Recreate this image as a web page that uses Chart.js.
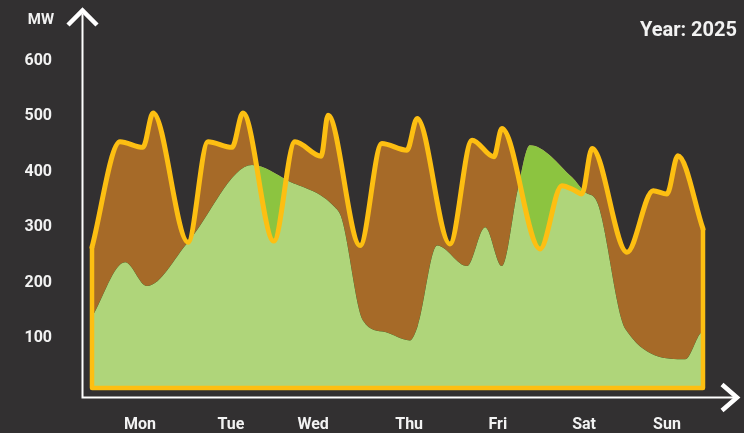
<!DOCTYPE html>
<html>
<head>
<meta charset="utf-8">
<script src="https://cdn.jsdelivr.net/npm/chart.js@4/dist/chart.umd.min.js"></script>
<style>
  html, body { margin: 0; padding: 0; background: #323031; }
  #wrap { width: 744px; height: 433px; }
</style>
</head>
<body>
<div id="wrap"><canvas id="c" width="744" height="433"></canvas></div>
<script>
// ---- data (x = hours since Monday 00:00) ----
const demandHours = [0, 7.7, 14.0, 16.8, 26.4, 31.9, 38.5, 41.5, 50.0, 55.8, 63.0, 64.9, 73.7, 79.7, 86.6, 89.4, 98.4, 104.5, 110.5, 112.7, 123.2, 129.2, 132.8, 134.7, 137.5, 147.1, 154.3, 158.1, 161.1, 168];
const demandMW    = [264, 454, 444, 506, 273, 454, 444, 506, 275, 454, 428, 502, 267, 451, 439, 496, 270, 457, 427, 478, 261, 375, 366, 360, 442, 255, 366, 360, 429, 297];
const supplyHours = [0, 9.1, 15.1, 26.4, 44.0, 53.9, 66.8, 68.7, 74.5, 80.6, 87.4, 89.6, 94.9, 103.1, 108.1, 112.7, 117.1, 120.4, 132.0, 135.6, 138.9, 146.6, 163.1, 167.2, 168];
const supplyMW    = [138, 237, 194, 273, 412, 384, 336, 315, 132, 111, 96, 123, 267, 230, 300, 230, 369, 448, 390, 363, 345, 117, 62, 108, 112];
const baseMW = 10;
const dayLabels = ['Mon', 'Tue', 'Wed', 'Thu', 'Fri', 'Sat', 'Sun'];
const dayTickHours = [13.2, 38.2, 60.8, 87.2, 111.6, 135.3, 158.1];
const yTickValues = [100, 200, 300, 400, 500, 600];
const unitLabel = 'MW';
const yearLabel = 'Year: 2025';

const BG = '#323031', YELLOW = '#fdbf12', BROWN = '#a66a28', LIGHTGREEN = '#afd57a', DARKGREEN = '#8cc440', WHITE = '#ffffff', TEXT = '#f2f2f2';
const FONT = 'Roboto, "Open Sans", sans-serif';

const demandPts = demandHours.map((h, i) => ({x: h, y: demandMW[i]}));
const supplyPts = supplyHours.map((h, i) => ({x: h, y: supplyMW[i]}));
const firstH = demandHours[0], lastH = demandHours[demandHours.length - 1];
const framePts = [
  {x: firstH, y: demandMW[0]},
  {x: firstH, y: baseMW},
  {x: lastH, y: baseMW},
  {x: lastH, y: demandMW[demandMW.length - 1]}
];

const decor = {
  id: 'decor',
  beforeDraw(chart) {
    const ctx = chart.ctx;
    ctx.save();
    ctx.fillStyle = BG;
    ctx.fillRect(0, 0, chart.width, chart.height);
    ctx.restore();
  },
  afterDraw(chart) {
    const ctx = chart.ctx, a = chart.chartArea;
    const x0 = a.left + 0.5, y0 = a.bottom + 0.5;
    ctx.save();
    ctx.strokeStyle = WHITE;
    ctx.lineWidth = 2;
    ctx.beginPath();
    ctx.moveTo(x0, a.top + 2);
    ctx.lineTo(x0, y0);
    ctx.lineTo(a.right + 2, y0);
    ctx.stroke();
    // arrow heads
    ctx.lineWidth = 4.5;
    ctx.lineJoin = 'miter';
    ctx.beginPath();
    ctx.moveTo(x0 - 14.5, a.top + 13);
    ctx.lineTo(x0, a.top - 1.5);
    ctx.lineTo(x0 + 14.5, a.top + 13);
    ctx.stroke();
    ctx.beginPath();
    ctx.moveTo(a.right - 13, y0 - 13);
    ctx.lineTo(a.right + 2, y0);
    ctx.lineTo(a.right - 13, y0 + 13);
    ctx.stroke();
    // texts
    ctx.fillStyle = TEXT;
    ctx.textBaseline = 'middle';
    ctx.font = 'bold 15px ' + FONT;
    ctx.textAlign = 'right';
    ctx.fillText(unitLabel, 54, 20);
    ctx.font = 'bold 20px ' + FONT;
    ctx.fillText(yearLabel, 737, 31);
    ctx.restore();
  }
};

new Chart(document.getElementById('c'), {
  type: 'line',
  data: {
    datasets: [
      {
        label: 'frame',
        data: framePts,
        borderColor: YELLOW,
        borderWidth: 4.5,
        tension: 0,
        fill: false,
        pointRadius: 0,
        borderJoinStyle: 'round'
      },
      {
        label: 'Demand',
        data: demandPts,
        borderColor: YELLOW,
        borderWidth: 5,
        cubicInterpolationMode: 'monotone',
        pointRadius: 0,
        borderJoinStyle: 'round',
        borderCapStyle: 'round',
        fill: {target: 2, above: BROWN, below: DARKGREEN}
      },
      {
        label: 'Supply',
        data: supplyPts,
        borderWidth: 0,
        borderColor: 'rgba(0,0,0,0)',
        backgroundColor: LIGHTGREEN,
        cubicInterpolationMode: 'monotone',
        pointRadius: 0,
        fill: {value: baseMW}
      }
    ]
  },
  options: {
    responsive: false,
    animation: false,
    devicePixelRatio: 1,
    layout: {padding: {top: 12, right: 9, left: 0, bottom: 0}},
    plugins: {legend: {display: false}, tooltip: {enabled: false}, title: {display: false}},
    scales: {
      x: {
        type: 'linear',
        min: -2.75,
        max: 176.8,
        grid: {display: false, drawTicks: false},
        border: {display: false},
        afterBuildTicks(scale) { scale.ticks = dayTickHours.map(v => ({value: v})); },
        afterFit(scale) { scale.height = 36; scale.paddingLeft = 0; scale.paddingRight = 0; },
        ticks: {
          autoSkip: false, maxRotation: 0, padding: 18,
          color: TEXT, font: {family: FONT, weight: 'bold', size: 16},
          callback: (v, i) => dayLabels[i]
        }
      },
      y: {
        min: -6,
        max: 688,
        grid: {display: false, drawTicks: false},
        border: {display: false},
        afterBuildTicks(scale) { scale.ticks = yTickValues.map(v => ({value: v})); },
        afterFit(scale) { scale.width = 82; scale.paddingTop = 0; scale.paddingBottom = 0; },
        ticks: {
          padding: 30,
          color: TEXT, font: {family: FONT, weight: 'bold', size: 16},
          callback: v => String(v)
        }
      }
    }
  },
  plugins: [decor]
});
</script>
</body>
</html>
